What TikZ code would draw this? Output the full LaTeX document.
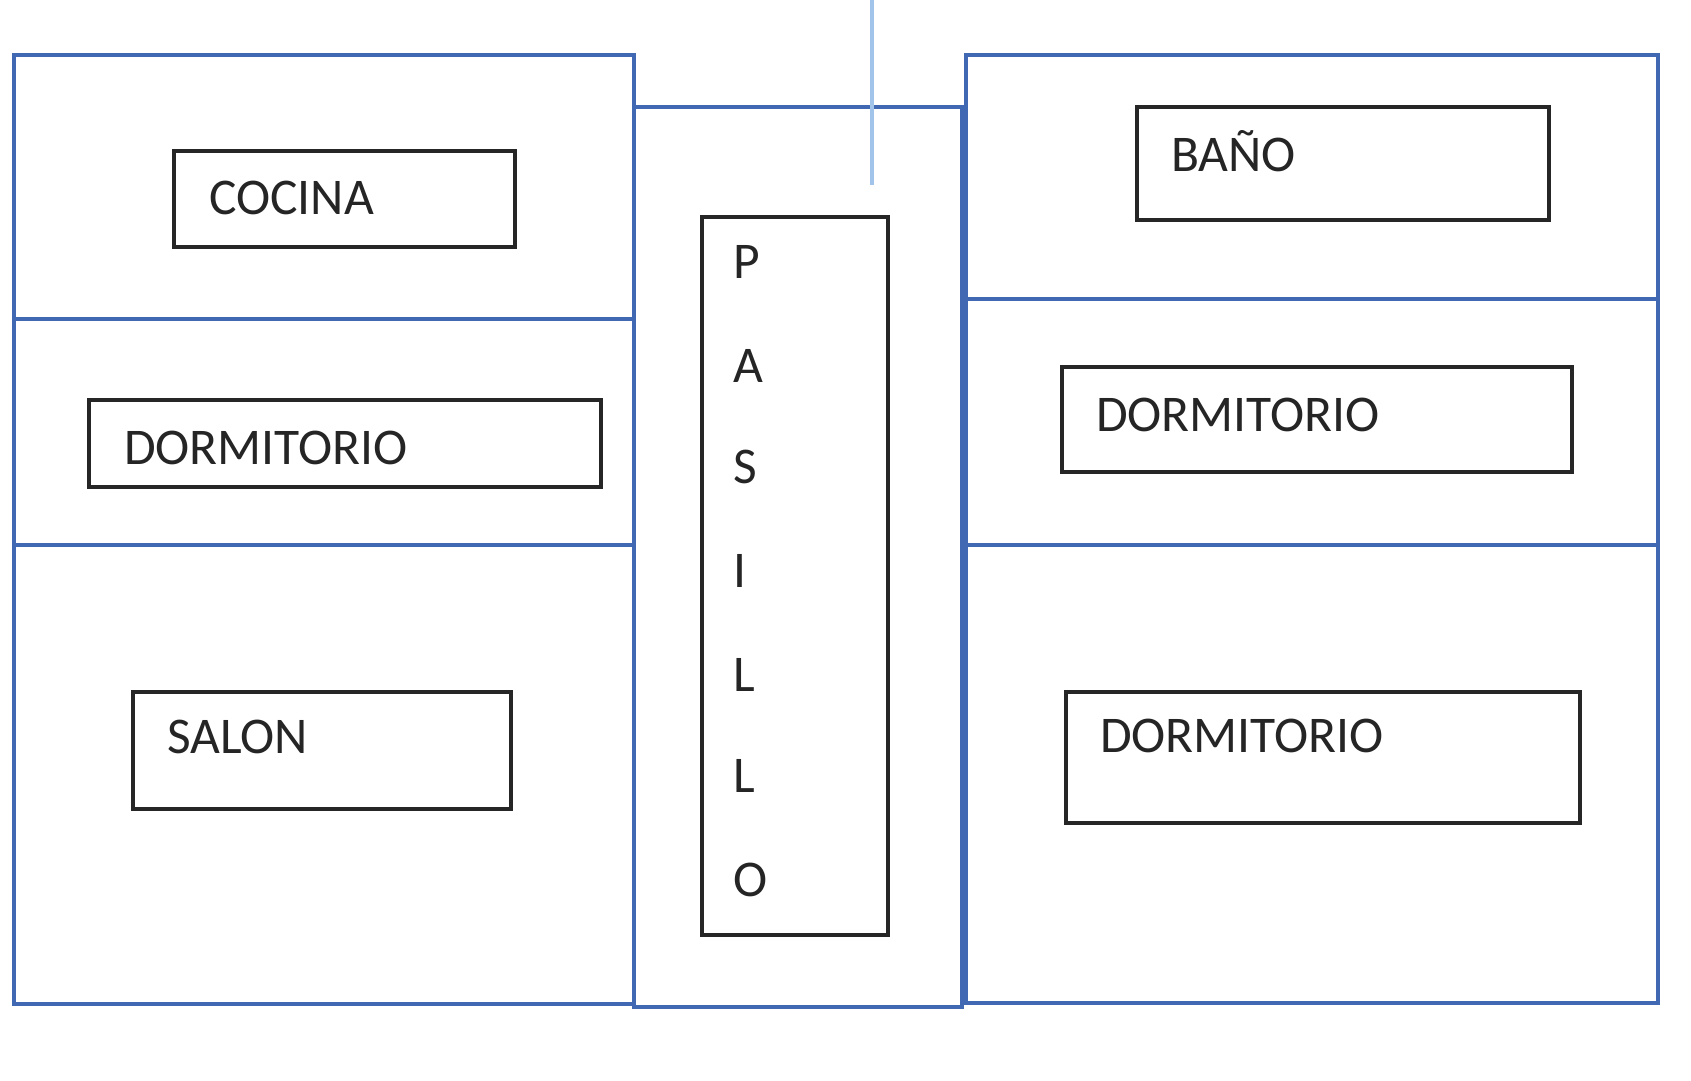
\documentclass[tikz,border=0pt]{standalone}
\usepackage{fontspec}
\setmainfont{Carlito}
\definecolor{wallblue}{HTML}{4169B3}
\definecolor{lineblue}{HTML}{A3C4EA}
\definecolor{boxblack}{HTML}{262626}
\definecolor{txt}{HTML}{252525}
\tikzset{
  wall/.style={draw=wallblue, line width=3.2pt},
  labelbox/.style={draw=boxblack, line width=3.4pt, rectangle, inner sep=0pt, outer sep=0pt, anchor=north west},
  roomtext/.style={text=txt, font=\fontsize{51.5}{60}\selectfont, inner sep=0pt, anchor=base west},
  riser/.style={draw=lineblue, line width=4.5pt}
}
\begin{document}
\begin{tikzpicture}[x=1pt,y=-1pt]
\useasboundingbox[fill=white] (0,0) rectangle (1691,1080);
% walls
\draw[wall] (14,55) rectangle (634,1004);
\draw[wall] (14,319) -- (634,319);
\draw[wall] (14,545) -- (634,545);
\draw[wall] (634,107) rectangle (962,1007);
\draw[wall] (966,55) rectangle (1658,1003);
\draw[wall] (966,299) -- (1658,299);
\draw[wall] (966,545) -- (1658,545);
% light vertical line
\coordinate (lt) at (872,0);
\coordinate (lb) at (872,185);
\draw[riser] (lt) -- (lb);
% label boxes
\node[labelbox, minimum width=341pt, minimum height=96pt] (cocina) at (174,151) {};
\node[roomtext] (cocinaT) at (209,214) {COCINA};
\node[labelbox, minimum width=512pt, minimum height=87pt] (dormL) at (89,400) {};
\node[roomtext] (dormLT) at (124,464) {DORMITORIO};
\node[labelbox, minimum width=378pt, minimum height=117pt] (salon) at (133,692) {};
\node[roomtext] (salonT) at (167,753) {SALON};
\node[labelbox, minimum width=186pt, minimum height=718pt] (pasillo) at (702,217) {};
\foreach \ch/\yy [count=\i] in {P/278,A/382,S/483,I/587,L/691,L/792,O/896}
  \node[roomtext] (pas\i) at (733,\yy) {\ch};
\node[labelbox, minimum width=412pt, minimum height=113pt] (bano) at (1137,107) {};
\node[roomtext] (banoT) at (1171,171) {BAÑO};
\node[labelbox, minimum width=510pt, minimum height=105pt] (dormR1) at (1062,367) {};
\node[roomtext] (dormR1T) at (1096,431) {DORMITORIO};
\node[labelbox, minimum width=514pt, minimum height=131pt] (dormR2) at (1066,692) {};
\node[roomtext] (dormR2T) at (1100,752) {DORMITORIO};
\end{tikzpicture}
\end{document}
